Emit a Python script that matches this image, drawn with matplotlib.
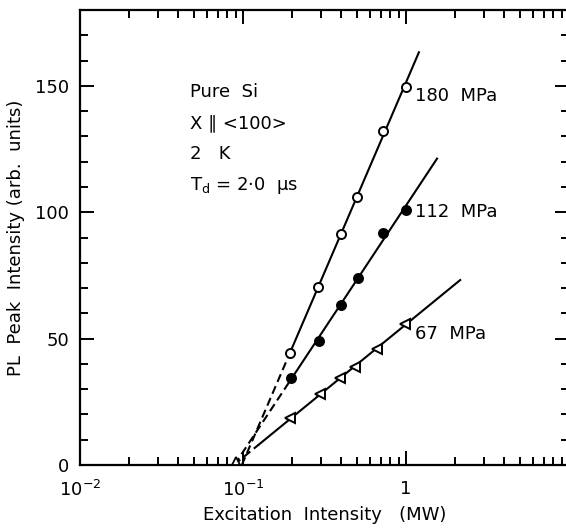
import numpy as np
import matplotlib
matplotlib.use("Agg")
import matplotlib.pyplot as plt
from matplotlib.ticker import LogLocator, FixedLocator, FixedFormatter, MultipleLocator, NullFormatter

# ---- data ----
x180 = [0.195, 0.29, 0.397, 0.503, 0.72, 1.0]
y180 = [44.3, 70.5, 91.2, 106.2, 132.3, 149.6]
x112 = [0.196, 0.293, 0.40, 0.505, 0.725, 1.0]
y112 = [34.5, 49.2, 63.2, 74.0, 91.7, 101.0]
x67 = [0.195, 0.295, 0.396, 0.485, 0.667, 0.98]
y67 = [18.4, 27.9, 34.5, 38.6, 46.0, 55.7]
line_end = {"180": 1.2, "112": 1.55, "67": 2.15}
solid_start = {"180": 0.195, "112": 0.196, "67": 0.125}
series_labels = ["180  MPa", "112  MPa", "67  MPa"]
label_y = [146.0, 100.0, 51.7]
origin_x = [0.09]
origin_y = [1.5]
xtick_vals = [0.01, 0.1, 1]
xtick_labels = [r"$\mathregular{10^{-2}}$", r"$\mathregular{10^{-1}}$", "1"]
info_lines = ["Pure  Si", "X ∥ <100>", "2   K", r"$\mathregular{T_d}$ = 2·0  μs"]
info_y = [147.5, 135.0, 123.0, 110.5]

plt.rcParams["font.family"] = ["DejaVu Sans"]
fig = plt.figure(figsize=(5.66, 5.29), dpi=100)
ax = fig.add_axes([80/566, 64/529, (569-80)/566, (465-10)/529])
ax.set_xscale("log")
ax.set_xlim(0.01, 10)
ax.set_ylim(0, 180)

fs = 13

def draw(xs, ys, key, marker, mfc):
    lx = np.log10(xs)
    a, b = np.polyfit(lx, ys, 1)
    x0 = 10 ** (-b / a)
    xs_solid = np.array([solid_start[key], line_end[key]])
    ax.plot(xs_solid, a*np.log10(xs_solid)+b, color="black", lw=1.5, zorder=2)
    xs_dash = np.array([x0, solid_start[key]])
    ax.plot(xs_dash, a*np.log10(xs_dash)+b, color="black", lw=1.5,
            ls=(0, (4, 2.2)), zorder=2)
    ax.plot(xs, ys, ls="none", marker=marker, ms=6.5,
            mfc=mfc, mec="black", mew=1.4, zorder=3)

draw(x180, y180, "180", "o", "white")
draw(x112, y112, "112", "o", "black")
draw(x67, y67, "67", "<", "white")
ax.plot(origin_x, origin_y, ls="none", marker="^", ms=6, mfc="white", mec="black", mew=1.3, zorder=3)

for lab, yv in zip(series_labels, label_y):
    ax.text(1.13, yv, lab, fontsize=fs, va="center", ha="left")

for t, yv in zip(info_lines, info_y):
    ax.text(0.047, yv, t, fontsize=fs, va="center", ha="left")

# ticks
ax.xaxis.set_major_locator(FixedLocator(xtick_vals + [10]))
ax.xaxis.set_major_formatter(FixedFormatter(xtick_labels + [""]))
ax.xaxis.set_minor_locator(LogLocator(base=10, subs=np.arange(2, 10)))
ax.xaxis.set_minor_formatter(NullFormatter())
ax.yaxis.set_major_locator(MultipleLocator(50))
ax.yaxis.set_minor_locator(MultipleLocator(10))
ax.tick_params(which="both", direction="in", top=True, right=True, width=1.4,
               labelsize=fs, pad=8)
ax.tick_params(axis="x", which="major", pad=11)
ax.tick_params(which="major", length=10)
ax.tick_params(which="minor", length=6)
for s in ax.spines.values():
    s.set_linewidth(1.6)

ax.set_xlabel("Excitation  Intensity   (MW)", fontsize=fs, labelpad=4)
ax.set_ylabel("PL  Peak  Intensity (arb.  units)", fontsize=fs, labelpad=7)

fig.savefig("out.png", dpi=100)
